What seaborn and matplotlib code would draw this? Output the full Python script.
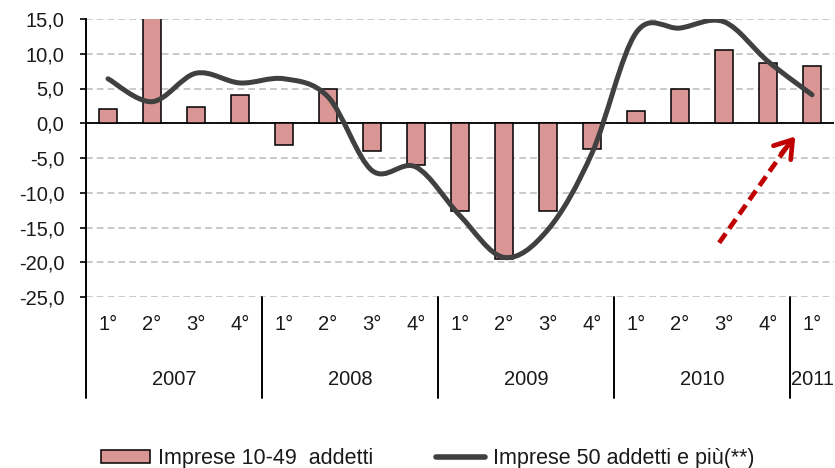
import numpy as np
import pandas as pd
import matplotlib
matplotlib.use('Agg')
import matplotlib.pyplot as plt
import matplotlib.patches as mpatches
from matplotlib.path import Path
from matplotlib.lines import Line2D
from matplotlib import transforms
import seaborn as sns

# ── dati ──────────────────────────────────────────────────────────────────────
anni = ['2007', '2008', '2009', '2010', '2011']
trimestri = ['1°', '2°', '3°', '4°'] * 4 + ['1°']
periodi = [f'{a}-{t}' for a in anni[:4] for t in ['1°', '2°', '3°', '4°']] + ['2011-1°']

piccole = [2.0, 16.5, 2.3, 4.0,
           -3.2, 4.9, -4.0, -6.0,
           -12.6, -19.6, -12.6, -3.7,
           1.7, 4.9, 10.6, 8.7,
           8.3]
grandi = [6.4, 3.1, 7.2, 5.8,
          6.4, 3.8, -6.8, -6.3,
          -13.3, -19.3, -15.3, -4.3,
          13.0, 13.7, 14.6, 8.9,
          4.1]

lab_bar = 'Imprese 10-49  addetti'
lab_line = 'Imprese 50 addetti e più(**)'

BAR_COL = '#d99694'
LINE_COL = '#404040'
ARROW_COL = '#c00000'

sns.set_style('white')
plt.rcParams['font.family'] = ['Liberation Sans', 'DejaVu Sans']
FS = 14.5

df = pd.DataFrame({'periodo': periodi, 'var': piccole})

fig = plt.figure(figsize=(8.35, 4.68), dpi=100)
ax = fig.add_axes([86 / 835, 1 - 297 / 468, 748 / 835, 278 / 468])

# griglia e linea dello zero
ax.set_axisbelow(True)
ax.yaxis.grid(True, color='#c0c0c0', linestyle=(0, (4, 2.5)), lw=1.2)
ax.axhline(0, color='black', lw=1.3, zorder=1.5)

sns.barplot(data=df, x='periodo', y='var', color=BAR_COL, saturation=1,
            edgecolor='black', linewidth=1.1, width=0.42, ax=ax, zorder=2)

# linea smussata (Bezier come in Excel)
n = len(grandi)
pts = np.column_stack([np.arange(n), grandi]).astype(float)
verts = [pts[0]]
codes = [Path.MOVETO]
for i in range(n - 1):
    p0 = pts[max(i - 1, 0)]
    p1 = pts[i]
    p2 = pts[i + 1]
    p3 = pts[min(i + 2, n - 1)]
    verts += [p1 + (p2 - p0) / 6, p2 - (p3 - p1) / 6, p2]
    codes += [Path.CURVE4] * 3
ax.add_patch(mpatches.PathPatch(Path(verts, codes), facecolor='none',
                                edgecolor=LINE_COL, lw=3.6, capstyle='round',
                                joinstyle='round', zorder=3))

ax.set_xlim(-0.5, n - 0.5)
ax.set_ylim(-25, 15)
yt = np.arange(-25, 16, 5)
ax.set_yticks(yt)
ax.set_yticklabels([f'{v:.1f}'.replace('.', ',') for v in yt])
ax.set_xticks(range(n))
ax.set_xticklabels(trimestri)
ax.set_xlabel('')
ax.set_ylabel('')
ax.tick_params(axis='y', direction='out', length=4.5, width=1.2, color='black',
               pad=11, labelsize=FS, labelcolor='#1a1a1a', left=True)
ax.tick_params(axis='x', length=0, pad=13, labelsize=FS, labelcolor='#1a1a1a')

for s in ['top', 'right', 'bottom']:
    ax.spines[s].set_visible(False)
ax.spines['left'].set_color('black')
ax.spines['left'].set_linewidth(1.4)

# separatori e anni
trans = transforms.blended_transform_factory(ax.transData, ax.transAxes)
for k in [-0.5, 3.5, 7.5, 11.5, 15.5]:
    ax.plot([k, k], [0, -0.363], transform=trans, color='black', lw=1.4,
            clip_on=False)
for a, xc in zip(anni, [1.5, 5.5, 9.5, 13.5, 16]):
    ax.text(xc, -0.295, a, transform=trans, ha='center', va='center',
            fontsize=FS, color='#1a1a1a')

# freccia tratteggiata
ax.plot([13.89, 15.45], [-17.2, -3.2], color=ARROW_COL, lw=3.4,
        ls=(0, (2.4, 1.3)), solid_capstyle='butt', zorder=4)
ax.annotate('', xy=(15.62, -1.9), xytext=(15.3, -4.4),
            arrowprops=dict(arrowstyle='->,head_length=0.6,head_width=0.4',
                            color=ARROW_COL, lw=3.4, mutation_scale=20,
                            shrinkA=0, shrinkB=0), zorder=4)

handles = [mpatches.Patch(facecolor=BAR_COL, edgecolor='black', lw=1.1),
           Line2D([], [], color=LINE_COL, lw=4)]
fig.legend(handles, [lab_bar, lab_line], loc='center',
           bbox_to_anchor=(0.512, 0.021), ncol=2, frameon=False, fontsize=15.5,
           handlelength=2.3, handleheight=0.55, handletextpad=0.35,
           columnspacing=2.9, labelcolor='#1a1a1a')

fig.savefig('out.png', dpi=100)
